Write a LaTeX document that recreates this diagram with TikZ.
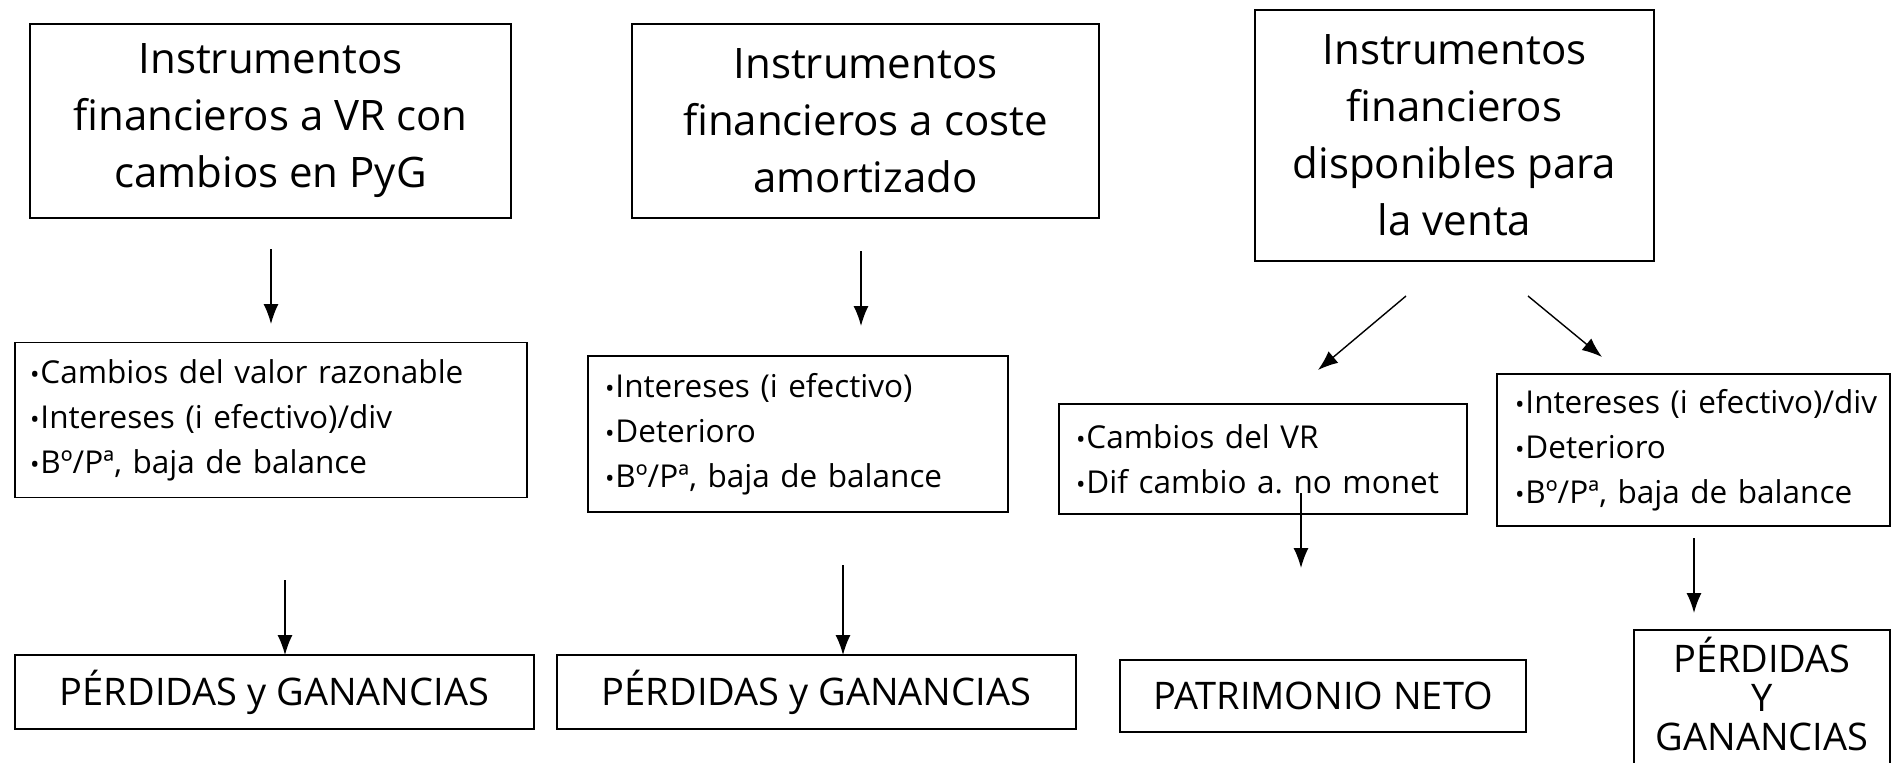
\documentclass[tikz,border=0pt]{standalone}
\usepackage{fontspec}
\setmainfont{Open Sans}
\usetikzlibrary{arrows.meta}
\frenchspacing
\newcommand{\bul}{\scalebox{0.8}{•}\hspace{1pt}}
\newcommand{\li}[1]{\mbox{\bul #1}}
\begin{document}
\begin{tikzpicture}[x=1pt,y=-1pt,
  boxs/.style={draw, line width=1.6pt, inner sep=0pt},
  topfont/.style={font=\fontsize{42}{57}\selectfont},
  midfont/.style={font=\fontsize{31.5}{45}\selectfont},
  botfont/.style={font=\fontsize{38}{39}\selectfont},
  arr/.style={line width=1.4pt, -{Latex[length=20pt,width=15pt]}}]
\useasboundingbox (0,0) rectangle (1896,763);
% top boxes
\node[boxs, topfont, align=center, minimum width=481, minimum height=194] (t1) at (270.5,121) {Instrumentos\\financieros a VR con\\cambios en PyG};
\node[boxs, topfont, align=center, minimum width=467, minimum height=194] (t2) at (865.5,121) {Instrumentos\\financieros a coste\\amortizado};
\node[boxs, topfont, align=center, minimum width=399, minimum height=251] (t3) at (1454.5,135.5) {Instrumentos\\financieros\\disponibles para\\la venta};
% middle boxes
\node[boxs, midfont, align=left, text width=482, inner xsep=15pt, minimum height=155] (m1) at (271,420) {\li{Cambios del valor razonable}\\\li{Intereses (i efectivo)/div}\\\li{Bº/Pª, baja de balance}};
\node[boxs, midfont, align=left, text width=386, inner xsep=17pt, minimum height=156] (m2) at (798,434) {\li{Intereses (i efectivo)}\\\li{Deterioro}\\\li{Bº/Pª, baja de balance}};
\node[boxs, midfont, align=left, text width=374, inner xsep=17pt, minimum height=110] (m3) at (1263,459) {\li{Cambios del VR}\\\li{Dif cambio a. no monet}};
\node[boxs, midfont, align=left, text width=357, inner xsep=18pt, minimum height=152] (m4) at (1693.5,450) {\li{Intereses (i efectivo)/div}\\\li{Deterioro}\\\li{Bº/Pª, baja de balance}};
% bottom boxes
\node[boxs, botfont, minimum width=519, minimum height=74] (b1) at (274.5,692) {PÉRDIDAS y GANANCIAS};
\node[boxs, botfont, minimum width=519, minimum height=74] (b2) at (816.5,692) {PÉRDIDAS y GANANCIAS};
\node[boxs, botfont, minimum width=406, minimum height=72] (b3) at (1323,696) {PATRIMONIO NETO};
\node[boxs, minimum width=256, minimum height=180, anchor=north] (b4) at (1762,629) {};
\node[botfont, align=center, inner sep=0pt] (b4t) at (1762,694) {PÉRDIDAS\\Y\\GANANCIAS};
% arrow coordinates
\coordinate (a1s) at (271,249); \coordinate (a1e) at (271,324);
\coordinate (a2s) at (861,251); \coordinate (a2e) at (861,326);
\coordinate (a3s) at (1406,296); \coordinate (a3e) at (1318,370);
\coordinate (a4s) at (1528,296); \coordinate (a4e) at (1602,357);
\coordinate (a5s) at (285,580); \coordinate (a5e) at (285,655);
\coordinate (a6s) at (843,565); \coordinate (a6e) at (843,655);
\coordinate (a7s) at (1301,493); \coordinate (a7e) at (1301,568);
\coordinate (a8s) at (1694,538); \coordinate (a8e) at (1694,613);
\draw[arr] (a1s) -- (a1e);
\draw[arr] (a2s) -- (a2e);
\draw[arr] (a3s) -- (a3e);
\draw[arr] (a4s) -- (a4e);
\draw[arr] (a5s) -- (a5e);
\draw[arr] (a6s) -- (a6e);
\draw[arr] (a7s) -- (a7e);
\draw[arr] (a8s) -- (a8e);
\end{tikzpicture}
\end{document}
